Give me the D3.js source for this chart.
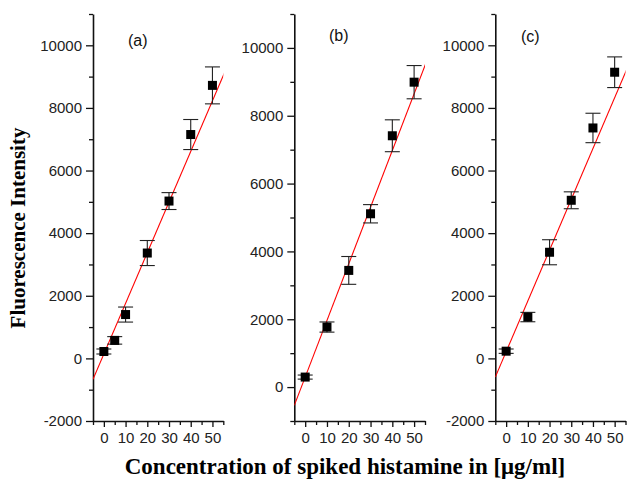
<!DOCTYPE html>
<html>
<head>
<meta charset="utf-8">
<script src="https://cdn.jsdelivr.net/npm/d3@7"></script>
<style>
  body { margin: 0; background: #fff; }
  svg { display: block; }
</style>
</head>
<body>
<div id="chart"></div>
<script>
// values
const panelNames = ['(a)', '(b)', '(c)'];

const concA = [0, 5, 10, 20, 30, 40, 50];
const meanA = [220, 575, 1400, 3365, 5025, 7150, 8720];
const errA = [80, 120, 240, 400, 270, 480, 590];

const concB = [0, 10, 20, 30, 40, 50];
const meanB = [295, 1770, 3440, 5110, 7410, 8990];
const errB = [60, 150, 410, 270, 470, 490];

const concC = [0, 10, 20, 30, 40, 50];
const meanC = [230, 1320, 3390, 5050, 7360, 9140];
const errC = [70, 150, 400, 270, 470, 490];

// fitted lines (intercept, slope) as drawn in the figure
const fitIntercept = [139, 295, 214];
const fitSlope = [161.8, 167, 162.2];

const yMin = [-2000, -1000, -2000];
const yMax = 11000;
const xTicks = [0, 10, 20, 30, 40, 50];

const width = 627;
const height = 481;

const svg = d3.select("#chart")
    .append("svg")
    .attr("width", width)
    .attr("height", height);

// pixel frame of each panel
const frames = [
    { left: 93, right: 223.3, top: 14, bottom: 421 },
    { left: 294.3, right: 425, top: 14, bottom: 421 },
    { left: 495.3, right: 625.5, top: 14, bottom: 421 }
];

const series = [
    concA.map((c, i) => ({ x: c, y: meanA[i], e: errA[i] })),
    concB.map((c, i) => ({ x: c, y: meanB[i], e: errB[i] })),
    concC.map((c, i) => ({ x: c, y: meanC[i], e: errC[i] }))
];

const labelPos = [[128, 46], [329, 41], [521, 42]];

series.forEach((data, p) => {
    const f = frames[p];
    const x = d3.scaleLinear().domain([-5, 55]).range([f.left, f.right]);
    const y = d3.scaleLinear().domain([yMin[p], yMax]).range([f.bottom, f.top]);
    const g = svg.append("g");

    // y axis: labelled ticks every 2000, minor ones in between
    const yMajor = d3.range(Math.ceil(yMin[p] / 2000) * 2000, yMax + 1, 2000);
    const yMinor = d3.range(yMin[p], yMax + 1, 1000).filter(v => v % 2000 !== 0);
    g.append("g")
        .attr("transform", `translate(${f.left},0)`)
        .call(d3.axisLeft(y).tickValues(yMajor).tickFormat(d => String(d))
            .tickSize(7).tickPadding(4).tickSizeOuter(0));
    g.append("g")
        .attr("transform", `translate(${f.left},0)`)
        .call(d3.axisLeft(y).tickValues(yMinor).tickSize(4).tickFormat("").tickSizeOuter(0))
        .select(".domain").remove();

    // x axis
    g.append("g")
        .attr("transform", `translate(0,${f.bottom})`)
        .call(d3.axisBottom(x).tickValues(xTicks).tickFormat(d => String(d))
            .tickSize(6).tickPadding(5).tickSizeOuter(0));
    g.append("g")
        .attr("transform", `translate(0,${f.bottom})`)
        .call(d3.axisBottom(x).tickValues(d3.range(-5, 56, 10)).tickSize(4).tickFormat("").tickSizeOuter(0))
        .select(".domain").remove();

    g.selectAll(".domain").attr("stroke", "#111").attr("stroke-width", 1.6);
    g.selectAll(".tick line").attr("stroke", "#111").attr("stroke-width", 1.3);
    g.selectAll(".tick text")
        .attr("font-family", "Liberation Sans, Arial, sans-serif")
        .attr("font-size", 15)
        .attr("fill", "#222");

    // fitted line, clipped to the frame
    const clipId = "clip" + p;
    svg.append("clipPath").attr("id", clipId)
        .append("rect")
        .attr("x", f.left).attr("y", f.top)
        .attr("width", f.right - f.left).attr("height", f.bottom - f.top);
    g.append("line")
        .attr("clip-path", `url(#${clipId})`)
        .attr("x1", x(-5)).attr("y1", y(fitIntercept[p] + fitSlope[p] * -5))
        .attr("x2", x(55.5)).attr("y2", y(fitIntercept[p] + fitSlope[p] * 55.5))
        .attr("stroke", "#f00")
        .attr("stroke-width", 1.1);

    // error bars
    const bars = g.selectAll(".err").data(data).enter().append("g").attr("class", "err")
        .attr("stroke", "#222").attr("stroke-width", 1.1);
    bars.append("line")
        .attr("x1", d => x(d.x)).attr("x2", d => x(d.x))
        .attr("y1", d => y(d.y - d.e)).attr("y2", d => y(d.y + d.e));
    bars.append("line")
        .attr("x1", d => x(d.x) - 7.5).attr("x2", d => x(d.x) + 7.5)
        .attr("y1", d => y(d.y + d.e)).attr("y2", d => y(d.y + d.e));
    bars.append("line")
        .attr("x1", d => x(d.x) - 7.5).attr("x2", d => x(d.x) + 7.5)
        .attr("y1", d => y(d.y - d.e)).attr("y2", d => y(d.y - d.e));

    // square markers
    g.selectAll(".pt").data(data).enter().append("rect")
        .attr("class", "pt")
        .attr("x", d => x(d.x) - 4.5)
        .attr("y", d => y(d.y) - 4.5)
        .attr("width", 9)
        .attr("height", 9)
        .attr("fill", "#000");

    g.append("text")
        .attr("x", labelPos[p][0])
        .attr("y", labelPos[p][1])
        .attr("font-family", "Liberation Sans, Arial, sans-serif")
        .attr("font-size", 16)
        .attr("fill", "#111")
        .text(panelNames[p]);
});

// shared axis titles
svg.append("text")
    .attr("transform", "translate(25,228) rotate(-90)")
    .attr("text-anchor", "middle")
    .attr("font-family", "Liberation Serif, Times New Roman, serif")
    .attr("font-weight", "bold")
    .attr("font-size", 21)
    .text("Fluorescence Intensity");

svg.append("text")
    .attr("x", 345)
    .attr("y", 474)
    .attr("text-anchor", "middle")
    .attr("font-family", "Liberation Serif, Times New Roman, serif")
    .attr("font-weight", "bold")
    .attr("font-size", 23)
    .text("Concentration of spiked histamine in [μg/ml]");
</script>
</body>
</html>
